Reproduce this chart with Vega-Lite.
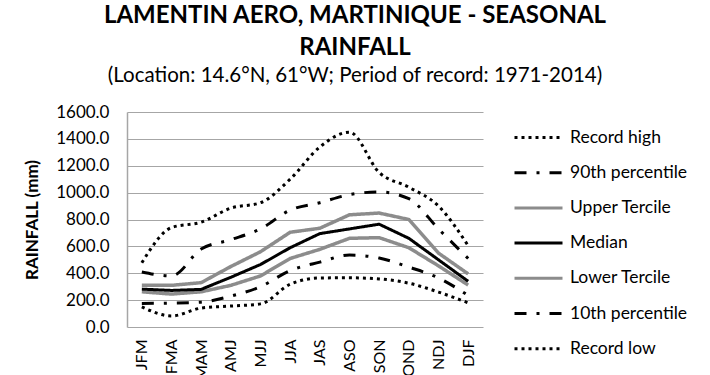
{
  "$schema": "https://vega.github.io/schema/vega-lite/v6.json",
  "width": 356,
  "height": 215,
  "autosize": {"type": "none"},
  "padding": {"left": 127, "top": 112, "right": 227, "bottom": 48},
  "background": "white",
  "title": {
    "text": ["LAMENTIN AERO, MARTINIQUE - SEASONAL", "RAINFALL"],
    "subtitle": "(Location: 14.6°N, 61°W; Period of record: 1971-2014)",
    "anchor": "middle",
    "dx": 50,
    "font": "Lato",
    "fontSize": 24,
    "fontWeight": "bold",
    "lineHeight": 32,
    "subtitleFont": "Lato",
    "subtitleFontSize": 20.5,
    "subtitlePadding": 6,
    "color": "#000000",
    "subtitleColor": "#000000",
    "offset": 17
  },
  "data": {
    "values": [
      {"season": "JFM", "series": "Record high", "value": 478},
      {"season": "FMA", "series": "Record high", "value": 740},
      {"season": "MAM", "series": "Record high", "value": 780},
      {"season": "AMJ", "series": "Record high", "value": 885},
      {"season": "MJJ", "series": "Record high", "value": 925},
      {"season": "JJA", "series": "Record high", "value": 1100},
      {"season": "JAS", "series": "Record high", "value": 1340},
      {"season": "ASO", "series": "Record high", "value": 1450},
      {"season": "SON", "series": "Record high", "value": 1150},
      {"season": "OND", "series": "Record high", "value": 1040},
      {"season": "NDJ", "series": "Record high", "value": 900},
      {"season": "DJF", "series": "Record high", "value": 605},
      {"season": "JFM", "series": "90th percentile", "value": 410},
      {"season": "FMA", "series": "90th percentile", "value": 380},
      {"season": "MAM", "series": "90th percentile", "value": 580},
      {"season": "AMJ", "series": "90th percentile", "value": 650},
      {"season": "MJJ", "series": "90th percentile", "value": 730},
      {"season": "JJA", "series": "90th percentile", "value": 870},
      {"season": "JAS", "series": "90th percentile", "value": 925},
      {"season": "ASO", "series": "90th percentile", "value": 985},
      {"season": "SON", "series": "90th percentile", "value": 1005},
      {"season": "OND", "series": "90th percentile", "value": 955},
      {"season": "NDJ", "series": "90th percentile", "value": 730},
      {"season": "DJF", "series": "90th percentile", "value": 510},
      {"season": "JFM", "series": "Upper Tercile", "value": 310},
      {"season": "FMA", "series": "Upper Tercile", "value": 310},
      {"season": "MAM", "series": "Upper Tercile", "value": 330},
      {"season": "AMJ", "series": "Upper Tercile", "value": 450},
      {"season": "MJJ", "series": "Upper Tercile", "value": 560},
      {"season": "JJA", "series": "Upper Tercile", "value": 705},
      {"season": "JAS", "series": "Upper Tercile", "value": 735},
      {"season": "ASO", "series": "Upper Tercile", "value": 835},
      {"season": "SON", "series": "Upper Tercile", "value": 848},
      {"season": "OND", "series": "Upper Tercile", "value": 800},
      {"season": "NDJ", "series": "Upper Tercile", "value": 550},
      {"season": "DJF", "series": "Upper Tercile", "value": 395},
      {"season": "JFM", "series": "Median", "value": 282},
      {"season": "FMA", "series": "Median", "value": 272},
      {"season": "MAM", "series": "Median", "value": 280},
      {"season": "AMJ", "series": "Median", "value": 370},
      {"season": "MJJ", "series": "Median", "value": 465},
      {"season": "JJA", "series": "Median", "value": 590},
      {"season": "JAS", "series": "Median", "value": 695},
      {"season": "ASO", "series": "Median", "value": 730},
      {"season": "SON", "series": "Median", "value": 765},
      {"season": "OND", "series": "Median", "value": 660},
      {"season": "NDJ", "series": "Median", "value": 500},
      {"season": "DJF", "series": "Median", "value": 340},
      {"season": "JFM", "series": "Lower Tercile", "value": 262},
      {"season": "FMA", "series": "Lower Tercile", "value": 245},
      {"season": "MAM", "series": "Lower Tercile", "value": 262},
      {"season": "AMJ", "series": "Lower Tercile", "value": 310},
      {"season": "MJJ", "series": "Lower Tercile", "value": 380},
      {"season": "JJA", "series": "Lower Tercile", "value": 510},
      {"season": "JAS", "series": "Lower Tercile", "value": 578},
      {"season": "ASO", "series": "Lower Tercile", "value": 660},
      {"season": "SON", "series": "Lower Tercile", "value": 665},
      {"season": "OND", "series": "Lower Tercile", "value": 590},
      {"season": "NDJ", "series": "Lower Tercile", "value": 455},
      {"season": "DJF", "series": "Lower Tercile", "value": 312},
      {"season": "JFM", "series": "10th percentile", "value": 175},
      {"season": "FMA", "series": "10th percentile", "value": 178},
      {"season": "MAM", "series": "10th percentile", "value": 185},
      {"season": "AMJ", "series": "10th percentile", "value": 230},
      {"season": "MJJ", "series": "10th percentile", "value": 300},
      {"season": "JJA", "series": "10th percentile", "value": 420},
      {"season": "JAS", "series": "10th percentile", "value": 483},
      {"season": "ASO", "series": "10th percentile", "value": 535},
      {"season": "SON", "series": "10th percentile", "value": 513},
      {"season": "OND", "series": "10th percentile", "value": 446},
      {"season": "NDJ", "series": "10th percentile", "value": 365},
      {"season": "DJF", "series": "10th percentile", "value": 235},
      {"season": "JFM", "series": "Record low", "value": 150},
      {"season": "FMA", "series": "Record low", "value": 82},
      {"season": "MAM", "series": "Record low", "value": 141},
      {"season": "AMJ", "series": "Record low", "value": 156},
      {"season": "MJJ", "series": "Record low", "value": 172},
      {"season": "JJA", "series": "Record low", "value": 318},
      {"season": "JAS", "series": "Record low", "value": 365},
      {"season": "ASO", "series": "Record low", "value": 366},
      {"season": "SON", "series": "Record low", "value": 358},
      {"season": "OND", "series": "Record low", "value": 326},
      {"season": "NDJ", "series": "Record low", "value": 260},
      {"season": "DJF", "series": "Record low", "value": 180}
    ]
  },
  "encoding": {
    "x": {
      "field": "season",
      "type": "ordinal",
      "sort": ["JFM", "FMA", "MAM", "AMJ", "MJJ", "JJA", "JAS", "ASO", "SON", "OND", "NDJ", "DJF"],
      "scale": {"paddingInner": 0, "paddingOuter": 0.5},
      "axis": {
        "title": null,
        "labelAngle": -90,
        "labelFont": "Lato",
        "labelFontSize": 16,
        "labelColor": "#000000",
        "labelPadding": 12,
        "ticks": false,
        "domain": false,
        "grid": false
      }
    },
    "y": {
      "field": "value",
      "type": "quantitative",
      "scale": {"domain": [0, 1600]},
      "axis": {
        "title": "RAINFALL (mm)",
        "titleFont": "Lato",
        "titleFontSize": 17,
        "titleFontWeight": "bold",
        "titleColor": "#000000",
        "titlePadding": 14,
        "values": [0, 200, 400, 600, 800, 1000, 1200, 1400, 1600],
        "format": ".1f",
        "labelFont": "Lato",
        "labelFontSize": 17,
        "labelColor": "#000000",
        "labelPadding": 18,
        "ticks": false,
        "domain": true,
        "domainColor": "#a6a6a6",
        "domainWidth": 1.5,
        "gridColor": "#a6a6a6",
        "gridWidth": 1.2,
        "gridOpacity": 1
      }
    },
    "color": {
      "field": "series",
      "type": "nominal",
      "scale": {
        "domain": ["Record high", "90th percentile", "Upper Tercile", "Median", "Lower Tercile", "10th percentile", "Record low"],
        "range": ["#000000", "#000000", "#8c8c8c", "#000000", "#8c8c8c", "#000000", "#000000"]
      },
      "legend": {
        "title": null,
        "orient": "none",
        "legendX": 386,
        "legendY": 0,
        "padding": 0,
        "symbolType": "stroke",
        "symbolSize": 2304,
        "symbolStrokeWidth": 3,
        "rowPadding": 1.2,
        "labelFont": "Lato",
        "labelFontSize": 17.5,
        "labelColor": "#000000",
        "labelOffset": 6
      }
    },
    "strokeDash": {
      "field": "series",
      "type": "nominal",
      "scale": {
        "domain": ["Record high", "90th percentile", "Upper Tercile", "Median", "Lower Tercile", "10th percentile", "Record low"],
        "range": [[3, 4], [12, 10, 3, 10], [1, 0], [1, 0], [1, 0], [12, 10, 3, 10], [3, 4]]
      },
      "legend": null
    }
  },
  "layer": [
    {
      "transform": [{"filter": "indexof(['Record high','Record low','90th percentile','10th percentile'], datum.series) >= 0"}],
      "mark": {"type": "line", "interpolate": "monotone", "strokeWidth": 3}
    },
    {
      "transform": [{"filter": "indexof(['Upper Tercile','Lower Tercile'], datum.series) >= 0"}],
      "mark": {"type": "line", "strokeWidth": 3.5}
    },
    {
      "transform": [{"filter": "datum.series == 'Median'"}],
      "mark": {"type": "line", "strokeWidth": 3}
    }
  ],
  "config": {
    "view": {"stroke": null}
  }
}
